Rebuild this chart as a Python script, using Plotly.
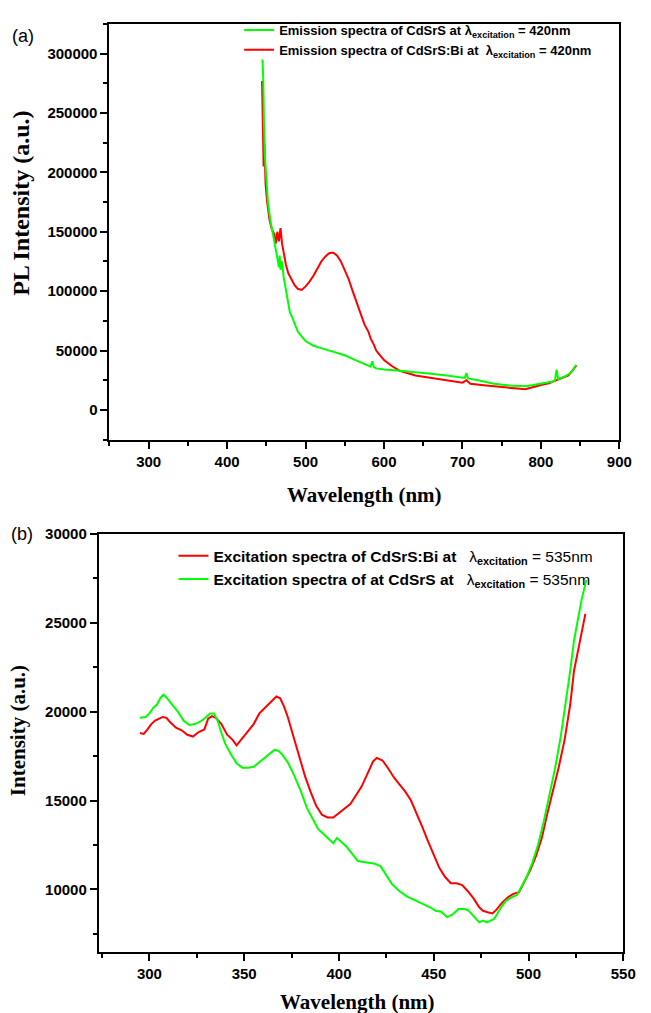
import plotly.graph_objects as go

# ---------------- Panel (a): emission spectra ----------------
em_wl_cdsrs = [445, 446, 447, 448, 450, 452, 455, 458, 460, 462, 464, 466, 467, 468, 470, 472,
               475, 478, 480, 483, 486, 490, 495, 500, 505, 510, 520, 530, 540, 550, 560, 570,
               580, 583, 585, 587, 590, 600, 620, 640, 660, 680, 700, 703, 705, 707, 720, 740,
               760, 780, 790, 800, 810, 815, 818, 820, 822, 830, 838, 845]
em_int_cdsrs = [295000, 280000, 240000, 215000, 195000, 175000, 160000, 150000, 142000, 135000,
                128000, 120000, 130000, 118000, 125000, 112000, 100000, 90000, 82000, 78000,
                72000, 66000, 62000, 58000, 56000, 54000, 52000, 50000, 48000, 46000, 43000,
                40000, 37000, 36500, 41000, 36000, 35000, 34000, 33000, 32000, 30500, 29000,
                27500, 27000, 31000, 26500, 25000, 22000, 20500, 20000, 21000, 22000, 23000,
                24000, 25000, 34000, 26000, 28000, 31000, 38000]

em_wl_bi = [444.5, 445.5, 446.5, 447.5, 449, 451, 454, 457, 460, 462, 464, 466, 468, 470, 472,
            475, 478, 482, 486, 490, 495, 500, 505, 510, 515, 520, 525, 530, 535, 540, 545, 550,
            555, 560, 565, 570, 575, 580, 583, 587, 590, 595, 600, 610, 620, 640, 660, 680, 700,
            705, 710, 730, 750, 770, 780, 790, 800, 810, 820, 825, 835, 845]
em_int_bi = [277000, 250000, 205000, 225000, 190000, 175000, 160000, 152000, 148000, 140000,
             150000, 142000, 153000, 140000, 132000, 122000, 115000, 110000, 105000, 102000,
             101000, 104000, 108000, 113000, 119000, 125000, 129000, 132000, 132500, 130000,
             125000, 118000, 110000, 100000, 90000, 80000, 72000, 66000, 60000, 55000, 50000,
             46000, 42000, 37000, 33000, 29000, 27000, 25000, 23000, 25000, 22000, 20500, 19000,
             18000, 17500, 19500, 21000, 22500, 25000, 26000, 29000, 37000]

# ---------------- Panel (b): excitation spectra ----------------
ex_wl_bi = [295, 297, 299, 301, 303, 305, 307, 309, 311, 314, 317, 320, 323, 326, 329, 331, 333,
            335, 338, 341, 344, 346, 349, 352, 355, 358, 361, 364, 367, 369, 371, 373, 376, 379,
            382, 385, 388, 391, 394, 397, 400, 403, 406, 409, 412, 415, 418, 420, 423, 426, 429,
            432, 435, 438, 441, 444, 447, 450, 453, 456, 459, 462, 465, 468, 471, 474, 476, 479,
            481, 483, 486, 489, 492, 495, 498, 501, 504, 507, 510, 513, 516, 519, 522, 524, 526,
            528, 530]
ex_int_bi = [18800, 18750, 19000, 19300, 19500, 19600, 19700, 19650, 19400, 19100, 18950, 18700,
             18600, 18850, 19000, 19600, 19750, 19650, 19300, 18700, 18400, 18100, 18500, 18900,
             19300, 19900, 20200, 20500, 20850, 20750, 20300, 19700, 18600, 17400, 16400, 15500,
             14700, 14200, 14050, 14050, 14300, 14500, 14800, 15300, 15800, 16500, 17200, 17400,
             17250, 16800, 16300, 15900, 15500, 15000, 14300, 13500, 12700, 11900, 11200, 10700,
             10350, 10350, 10250, 9900, 9500, 9000, 8800, 8700, 8650, 8850, 9250, 9550, 9750,
             9850, 10450, 11100, 11900, 12900, 14300, 15600, 16900, 18400, 20400, 22300, 23400,
             24400, 25500]

ex_wl_cdsrs = [295, 298, 300, 302, 304, 306, 307.5, 309, 312, 315, 318, 321, 324, 327, 330, 332,
               334, 336, 338, 340, 343, 346, 349, 352, 355, 358, 361, 364, 366, 368, 370, 373,
               376, 380, 383, 386, 389, 392, 395, 397, 399, 401, 404, 407, 410, 413, 416, 419,
               422, 425, 428, 432, 436, 440, 444, 448, 451, 454, 457, 460, 463, 466, 468, 471,
               474, 476, 478, 480, 482, 485, 488, 491, 494, 496, 499, 502, 505, 508, 511, 514,
               517, 520, 522, 524, 526, 528, 530.5]
ex_int_cdsrs = [19650, 19700, 19900, 20200, 20400, 20800, 20950, 20800, 20400, 20000, 19500,
                19250, 19300, 19450, 19700, 19900, 19900, 19500, 18800, 18200, 17600, 17100,
                16850, 16850, 16900, 17150, 17450, 17700, 17850, 17800, 17600, 17150, 16500,
                15500, 14600, 14000, 13400, 13100, 12800, 12600, 12900, 12700, 12400, 12000,
                11600, 11550, 11500, 11450, 11300, 10800, 10300, 9900, 9600, 9400, 9200, 9000,
                8800, 8750, 8450, 8600, 8900, 8900, 8850, 8500, 8150, 8250, 8150, 8250, 8350,
                8900, 9350, 9550, 9700, 10100, 10700, 11500, 12500, 13800, 15300, 16800, 18600,
                20700, 22300, 24000, 25200, 26300, 27400]

# ---------------- Tick values / labels ----------------
a_xticks = [300, 400, 500, 600, 700, 800, 900]
a_yticks = [0, 50000, 100000, 150000, 200000, 250000, 300000]
b_xticks = [300, 350, 400, 450, 500, 550]
b_yticks = [10000, 15000, 20000, 25000, 30000]

GREEN = "#00ff00"
RED = "#ff0000"
W, H = 651, 1013

name_a_green = "<b>Emission spectra of CdSrS at λ<sub>excitation</sub> = 420nm</b>"
name_a_red = "<b>Emission spectra of CdSrS:Bi at \u00a0λ<sub>excitation</sub> = 420nm</b>"
name_b_red = "<b>Excitation spectra of CdSrS:Bi at</b>\u00a0\u00a0 λ<sub><b>excitation</b></sub> = 535nm"
name_b_green = "<b>Excitation spectra of at CdSrS at</b>\u00a0\u00a0 λ<sub><b>excitation</b></sub> = 535nm"

fig = go.Figure()
fig.add_trace(go.Scatter(x=em_wl_bi, y=em_int_bi, mode="lines", name=name_a_red,
                         line=dict(color=RED, width=2), xaxis="x", yaxis="y",
                         legend="legend", legendrank=2))
fig.add_trace(go.Scatter(x=em_wl_cdsrs, y=em_int_cdsrs, mode="lines", name=name_a_green,
                         line=dict(color=GREEN, width=2), xaxis="x", yaxis="y",
                         legend="legend", legendrank=1))
fig.add_trace(go.Scatter(x=ex_wl_bi, y=ex_int_bi, mode="lines", name=name_b_red,
                         line=dict(color=RED, width=2), xaxis="x2", yaxis="y2",
                         legend="legend2", legendrank=1))
fig.add_trace(go.Scatter(x=ex_wl_cdsrs, y=ex_int_cdsrs, mode="lines", name=name_b_green,
                         line=dict(color=GREEN, width=2), xaxis="x2", yaxis="y2",
                         legend="legend2", legendrank=2))

tickfont = dict(family="Liberation Sans, Arial", size=15, color="black")
axcommon = dict(showline=True, linecolor="black", linewidth=2, mirror=True, ticks="outside",
                ticklen=7, tickwidth=1.5, tickcolor="black", showgrid=False, zeroline=False,
                tickfont=tickfont, tickmode="array")


def bold(vals):
    return ["<b>%d</b>" % v for v in vals]


def px_x(p):
    return p / W


def px_y(p):
    return 1 - p / H


fig.update_layout(
    width=W, height=H,
    margin=dict(l=0, r=0, t=0, b=0),
    paper_bgcolor="white", plot_bgcolor="white",
    xaxis=dict(domain=[px_x(111.7), px_x(632)], range=[250, 900],
               tickvals=a_xticks, ticktext=bold(a_xticks),
               minor=dict(ticks="outside", ticklen=4, dtick=50, tick0=0, tickcolor="black"),
               anchor="y", **axcommon),
    yaxis=dict(domain=[px_y(434.5), px_y(15)], range=[-25000, 325000],
               tickvals=a_yticks, ticktext=bold(a_yticks),
               minor=dict(ticks="outside", ticklen=4, dtick=25000, tick0=0, tickcolor="black"),
               anchor="x", **axcommon),
    xaxis2=dict(domain=[px_x(100.8), px_x(636)], range=[273.3, 550],
                tickvals=b_xticks, ticktext=bold(b_xticks),
                minor=dict(ticks="outside", ticklen=4, dtick=25, tick0=0, tickcolor="black"),
                anchor="y2", **axcommon),
    yaxis2=dict(domain=[px_y(951.7), px_y(529.5)], range=[6470, 30000],
                tickvals=b_yticks, ticktext=bold(b_yticks),
                minor=dict(ticks="outside", ticklen=4, dtick=2500, tick0=0, tickcolor="black"),
                anchor="x2", **axcommon),
    legend=dict(x=px_x(244), y=px_y(6), xanchor="left", yanchor="top",
                bgcolor="rgba(0,0,0,0)", font=dict(family="Liberation Sans, Arial", size=13,
                                                     color="black"),
                itemwidth=30, tracegroupgap=0),
    legend2=dict(x=px_x(177), y=px_y(535), xanchor="left", yanchor="top",
                 bgcolor="rgba(0,0,0,0)", font=dict(family="Liberation Sans, Arial", size=15.5,
                                                      color="black"),
                 itemwidth=30, tracegroupgap=0),
    showlegend=True,
)

title_font = dict(family="Liberation Serif, Times New Roman", size=21, color="black",
                  weight="bold")
annos = [
    dict(text="<b>PL Intensity (a.u.)</b>", x=px_x(22), y=px_y(196), textangle=-90,
         font=dict(title_font, size=24)),
    dict(text="<b>Intensity (a.u.)</b>", x=px_x(18), y=px_y(728), textangle=-90,
         font=title_font),
    dict(text="<b>Wavelength (nm)</b>", x=px_x(372), y=px_y(490), font=title_font),
    dict(text="<b>Wavelength (nm)</b>", x=px_x(365), y=px_y(1002), font=title_font),
    dict(text="(a)", x=px_x(23), y=px_y(27),
         font=dict(family="Liberation Sans, Arial", size=18, color="black")),
    dict(text="(b)", x=px_x(22), y=px_y(530),
         font=dict(family="Liberation Sans, Arial", size=18, color="black")),
]
for a in annos:
    fig.add_annotation(xref="paper", yref="paper", xanchor="center", yanchor="middle",
                       showarrow=False, **a)

fig.write_html("out.html", config={"displayModeBar": False},
               post_script="document.body.style.margin='0px';"
                           "document.documentElement.style.overflow='hidden';")
